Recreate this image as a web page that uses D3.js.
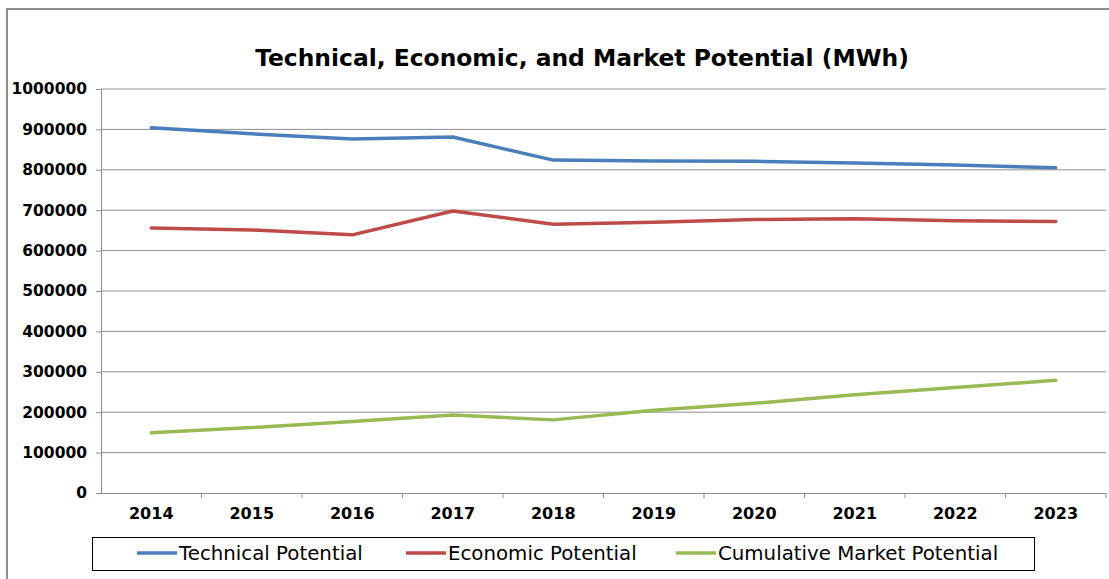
<!DOCTYPE html>
<html>
<head>
<meta charset="utf-8">
<script src="https://cdn.jsdelivr.net/npm/d3@7"></script>
<style>
  body { margin: 0; background: #fff; }
  svg { display: block; }
</style>
</head>
<body>
<script>
// values (MWh)
var years = ['2014', '2015', '2016', '2017', '2018', '2019', '2020', '2021', '2022', '2023'];
var technical = [904000, 889000, 876000, 881000, 824000, 822000, 821000, 817000, 812000, 805000];
var economic = [656000, 651000, 639000, 698000, 665000, 670000, 677000, 679000, 674000, 672000];
var cumulative = [149000, 162000, 177000, 193000, 181000, 205000, 222000, 243000, 261000, 279000];
var yTicks = [0, 100000, 200000, 300000, 400000, 500000, 600000, 700000, 800000, 900000, 1000000];
var seriesNames = ['Technical Potential', 'Economic Potential', 'Cumulative Market Potential'];
var seriesColors = ['#4a7ebb', '#be4b48', '#98b954'];

var W = 1109, H = 579;
var FONT = 'DejaVu Sans, Verdana, sans-serif';
var svg = d3.select('body').append('svg').attr('width', W).attr('height', H);

/*CHART BORDER*/
svg.append('rect')
    .attr('x', 7).attr('y', 9)
    .attr('width', W + 20).attr('height', H + 20)
    .attr('fill', 'none')
    .attr('stroke', '#8c8c8c')
    .attr('stroke-width', 2);

/*TITLE*/
svg.append('text')
    .attr('x', 582).attr('y', 66)
    .attr('text-anchor', 'middle')
    .attr('font-family', FONT)
    .attr('font-weight', 'bold')
    .attr('font-size', 23.4)
    .text('Technical, Economic, and Market Potential (MWh)');

var plotLeft = 101, plotRight = 1106, plotTop = 89, plotBottom = 493;

var x = d3.scaleBand().domain(years).range([plotLeft, plotRight]);
var y = d3.scaleLinear().domain([0, 1000000]).range([plotBottom, plotTop]);

/*GRIDLINES*/
svg.append('g').selectAll('line')
    .data(yTicks.slice(1))
    .enter().append('line')
        .attr('x1', plotLeft).attr('x2', plotRight)
        .attr('y1', function(d) { return y(d); })
        .attr('y2', function(d) { return y(d); })
        .attr('stroke', '#8f8f8f')
        .attr('stroke-width', 1);

/*Y AXIS*/
var yAxis = svg.append('g')
    .attr('transform', 'translate(' + plotLeft + ',0)')
    .call(d3.axisLeft(y).tickValues(yTicks).tickFormat(d3.format('d')).tickSize(5).tickPadding(9));
yAxis.select('.domain').attr('stroke', '#8f8f8f');
yAxis.selectAll('.tick line').attr('stroke', '#8f8f8f');
yAxis.selectAll('text')
    .attr('font-family', FONT)
    .attr('font-weight', 'bold')
    .attr('font-size', 15.5)
    .attr('fill', '#000');

/*X AXIS*/
var xAxis = svg.append('g')
    .attr('transform', 'translate(0,' + plotBottom + ')')
    .call(d3.axisBottom(x).tickSize(0).tickPadding(15));
xAxis.select('.domain').attr('stroke', '#8f8f8f');
xAxis.selectAll('text')
    .attr('font-family', FONT)
    .attr('font-weight', 'bold')
    .attr('font-size', 16)
    .attr('fill', '#000');
// category boundary ticks
xAxis.selectAll('line.bound')
    .data(years)
    .enter().append('line')
        .attr('class', 'bound')
        .attr('x1', function(d) { return x(d) + x.bandwidth(); })
        .attr('x2', function(d) { return x(d) + x.bandwidth(); })
        .attr('y1', 0).attr('y2', 5)
        .attr('stroke', '#8f8f8f');

/*LINES*/
var allSeries = [technical, economic, cumulative];
var line = d3.line()
    .x(function(d, i) { return x(years[i]) + x.bandwidth() / 2; })
    .y(function(d) { return y(d); });

svg.selectAll('path.series')
    .data(allSeries)
    .enter().append('path')
        .attr('class', 'series')
        .attr('d', line)
        .attr('fill', 'none')
        .attr('stroke', function(d, i) { return seriesColors[i]; })
        .attr('stroke-width', 3.5)
        .attr('stroke-linejoin', 'round')
        .attr('stroke-linecap', 'round');

/*LEGEND*/
svg.append('rect')
    .attr('x', 92.5).attr('y', 537.5)
    .attr('width', 942).attr('height', 33)
    .attr('fill', '#fff')
    .attr('stroke', '#000')
    .attr('stroke-width', 1);

var legendX = [137, 406, 676];
var items = svg.selectAll('g.legend')
    .data(seriesNames)
    .enter().append('g')
        .attr('class', 'legend')
        .attr('transform', function(d, i) { return 'translate(' + legendX[i] + ',553)'; });
items.append('line')
    .attr('x1', 0).attr('x2', 40)
    .attr('stroke', function(d, i) { return seriesColors[i]; })
    .attr('stroke-width', 3.5);
items.append('text')
    .attr('x', 42)
    .attr('dy', '0.35em')
    .attr('font-family', FONT)
    .attr('font-size', 19.8)
    .attr('fill', '#000')
    .text(function(d) { return d; });
</script>
</body>
</html>
